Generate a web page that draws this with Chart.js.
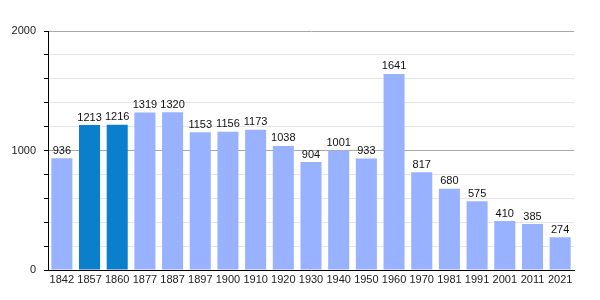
<!DOCTYPE html>
<html>
<head>
	<meta charset="UTF-8">
	<title>population</title>
	<script src="https://cdn.jsdelivr.net/npm/chart.js"></script>
	<style>
	body{margin:0; background:#fff;}
	div{width:600px; height:300px;}
	</style>
</head>
<body>
	<div>
	  <canvas id="myChart"></canvas>
	</div>
	<script>
	var years = ['1842','1857','1860','1877','1887','1897','1900','1910','1920','1930','1940','1950','1960','1970','1981','1991','2001','2011','2021'];
	var population = [936,1213,1216,1319,1320,1153,1156,1173,1038,904,1001,933,1641,817,680,575,410,385,274];
	var highlighted = ['1857','1860'];
	var yLabels = [0, 1000, 2000];

	var lightBlue = '#99b2ff';
	var darkBlue = '#0a7fcc';

	// valeurs au-dessus des barres
	var valueLabels = {
		id: 'valueLabels',
		afterDatasetsDraw: function(chart){
			var ctx = chart.ctx;
			var meta = chart.getDatasetMeta(0);
			ctx.save();
			ctx.font = '11px "Liberation Sans", Arial, sans-serif';
			ctx.fillStyle = '#111';
			ctx.textAlign = 'center';
			ctx.textBaseline = 'bottom';
			meta.data.forEach(function(bar, i){
				ctx.fillText(population[i], bar.x, bar.y - 2);
			});
			ctx.restore();
		}
	};

	Chart.defaults.font.family = '"Liberation Sans", Arial, sans-serif';
	Chart.defaults.font.size = 11;
	Chart.defaults.color = '#222';

	const ctx = document.getElementById('myChart');
	new Chart(ctx, {
		type: 'bar',
		data: {
			labels: years,
			datasets: [{
				data: population,
				backgroundColor: years.map(function(y){ return highlighted.indexOf(y) >= 0 ? darkBlue : lightBlue; }),
				borderWidth: 0,
				categoryPercentage: 1,
				barPercentage: 0.76
			}]
		},
		options: {
			responsive: true,
			maintainAspectRatio: false,
			animation: false,
			layout: { padding: { left: 0, top: 31, right: 26, bottom: 0 } },
			plugins: { legend: { display: false }, tooltip: { enabled: false } },
			scales: {
				x: {
					grid: { display: false, drawTicks: false },
					border: { display: true, color: '#000', width: 1 },
					ticks: { padding: 3, maxRotation: 0, autoSkip: false, color: '#222' },
					afterFit: function(scale){ scale.height = 30; }
				},
				y: {
					min: 0,
					max: 2000,
					grid: {
						color: function(c){ return c.tick && c.tick.value % 1000 === 0 ? '#a8a8a8' : '#e6e6e6'; },
						tickColor: '#000',
						tickLength: 4
					},
					border: { display: true, color: '#000', width: 1 },
					ticks: {
						stepSize: 200,
						padding: 8,
						color: '#222',
						callback: function(v){ return yLabels.indexOf(v) >= 0 ? v : ''; }
					},
					afterFit: function(scale){ scale.width = 48; }
				}
			}
		},
		plugins: [valueLabels]
	});
	</script>
</body>
</html>
